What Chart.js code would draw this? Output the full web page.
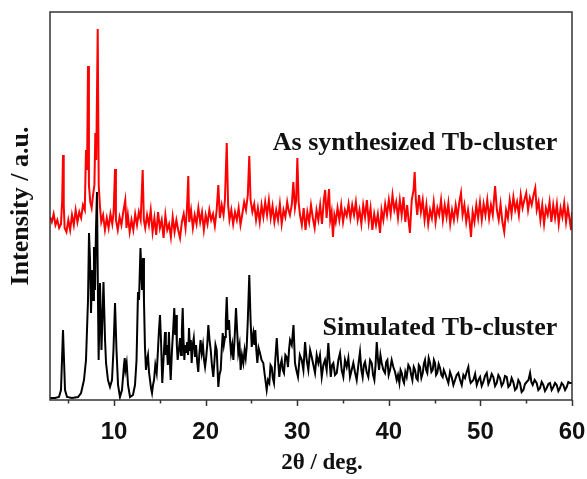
<!DOCTYPE html>
<html>
<head>
<meta charset="utf-8">
<script src="https://cdn.jsdelivr.net/npm/chart.js@4.4.0/dist/chart.umd.min.js"></script>
<style>
html,body{margin:0;padding:0;background:#fff;}
</style>
</head>
<body>
<canvas id="xrd" width="587" height="479"></canvas>
<script>
// 2theta (deg) / intensity (a.u.)
var simTheta = [3.0,3.55,3.98,4.2,4.31,4.42,4.53,4.64,4.86,5.4,6.06,6.39,6.71,6.93,7.15,7.26,7.37,7.48,7.59,7.70,7.80,7.91,8.02,8.13,8.24,8.31,8.46,8.62,8.84,9.01,9.12,9.33,9.55,9.77,9.93,10.10,10.26,10.43,10.64,10.86,11.08,11.16,11.24,11.37,11.52,11.74,12.06,12.28,12.45,12.61,12.72,12.88,13.05,13.16,13.26,
	13.37,13.48,13.59,13.70,13.81,13.92,14.03,14.14,14.25,14.36,
	14.50,14.65,14.79,14.90,15.01,15.12,15.26,15.36,15.45,15.56,
	15.65,15.74,15.87,15.99,16.08,16.18,16.32,16.45,16.57,16.67,
	16.76,16.85,16.94,17.07,17.20,17.31,17.40,17.49,17.58,17.67,
	17.76,17.85,17.98,18.08,18.18,18.30,18.38,18.47,18.58,18.70,
	18.83,18.95,19.07,19.19,19.30,19.44,19.57,19.70,19.82,19.93,
	20.05,20.17,20.29,20.42,20.55,20.68,20.83,20.95,21.07,21.20,
	21.30,21.38,21.50,21.64,21.75,21.86,21.98,22.11,22.20,22.30,
	22.42,22.55,22.66,22.77,22.90,23.02,23.15,23.31,23.43,23.56,
	23.70,23.82,23.96,24.11,24.25,24.37,24.48,24.60,24.76,24.90,
	25.03,25.11,25.20,25.31,25.42,25.53,25.64,25.78,25.93,26.10,
	26.29,26.45,26.66,26.80,26.95,27.08,27.21,27.33,27.46,27.60,
	27.76,27.90,28.04,28.17,28.30,28.42,28.55,28.70,28.85,28.99,
	29.10,29.21,29.40,29.59,29.75,29.90,30.08,30.28,30.49,30.67,
	30.85,31.03,31.21,31.40,31.58,31.76,31.94,32.12,32.30,32.48,
	32.67,32.85,33.03,33.21,33.39,33.52,33.66,33.80,33.94,34.12,
	34.31,34.49,34.67,34.85,35.03,35.21,35.40,35.58,35.76,35.94,
	36.12,36.30,36.49,36.67,36.85,37.00,37.14,37.27,37.40,37.58,
	37.76,37.95,38.13,38.28,38.42,38.55,38.68,38.80,38.93,39.08,
	39.22,39.40,39.58,39.71,39.84,39.98,40.13,40.31,40.49,40.68,
	40.86,41.00,41.15,41.28,41.41,41.54,41.66,41.80,41.95,42.13,
	42.31,42.44,42.57,42.72,42.86,43.00,43.15,43.27,43.40,43.55,
	43.70,43.82,43.95,44.07,44.20,44.35,44.50,44.65,44.79,44.92,
	45.04,45.16,45.29,45.44,45.59,45.74,45.88,46.00,46.13,46.31,
	46.50,46.68,46.86,47.05,47.23,47.41,47.59,47.78,47.96,48.14,
	48.32,48.50,48.68,48.81,48.94,
	49.23,49.42,49.60,49.78,49.96,50.14,50.32,50.50,50.69,50.87,
	51.05,51.23,51.41,51.60,51.78,51.96,52.14,52.32,52.50,52.68,
	52.87,53.05,53.23,53.41,53.59,53.78,53.96,54.14,54.32,54.50,
	54.69,54.87,55.05,55.25,55.42,55.56,55.71,55.92,56.14,56.32,
	56.51,56.69,56.87,57.05,57.24,57.42,57.60,57.78,57.96,58.15,
	58.33,58.51,58.69,58.87,59.05,59.24,59.42,59.60,59.78,60.0];
var simInt = [2,2,3,10,40,70,40,10,3,2,3,7,20,40,100,167,140,87,130,100,153,110,170,208,100,40,117,50,118,60,37,20,13,20,50,97,50,15,3,10,35,42,30,37,15,3,5,15,40,108,100,152,110,142,100,
	53,30,40,45,28,20,12,7,15,20,
	35,27,50,70,85,60,17,35,50,68,
	45,55,35,68,40,20,50,70,92,65,
	85,55,40,50,62,45,70,92,60,40,
	55,47,58,45,72,50,60,37,55,62,
	43,55,38,28,45,60,47,55,40,33,
	42,55,75,60,50,35,23,38,55,50,
	30,13,25,30,50,67,55,63,80,103,
	70,80,60,47,55,40,60,92,70,47,
	55,30,45,37,50,42,53,80,125,80,
	53,62,67,55,70,50,37,52,47,40,
	37,25,10,20,17,35,33,22,17,40,
	62,40,23,35,40,30,27,45,43,33,
	50,60,55,75,37,30,23,45,40,30,
	58,40,30,50,43,35,27,45,37,45,
	23,35,40,30,57,40,23,35,37,25,
	27,40,47,30,23,40,33,42,23,30,
	37,28,20,35,48,30,23,35,38,28,
	23,40,37,25,20,35,58,42,30,45,
	37,30,27,38,40,25,30,40,33,28,
	20,25,17,30,27,20,17,28,23,35,
	32,25,20,33,30,22,20,35,33,22,
	27,36,40,30,27,42,37,28,30,40,
	37,25,27,36,32,25,23,30,27,22,
	17,28,23,15,20,25,27,20,15,25,
	22,28,33,22,17,
	20,26,15,20,23,14,18,24,27,16,
	20,26,23,14,17,25,22,14,17,24,
	23,13,15,22,18,10,12,20,17,8,
	10,16,18,20,27,18,15,20,17,10,
	12,18,15,9,12,16,17,10,13,17,
	15,9,12,17,15,10,13,18,17,17];

var expTheta = [3.0,3.2,3.4,3.6,3.8,4.0,4.2,4.33,4.42,4.5,4.6,4.8,5.0,5.2,5.4,5.6,5.8,6.0,6.2,6.4,6.6,6.8,6.93,7.05,7.15,7.25,7.4,7.55,7.7,7.85,7.95,8.05,8.21,8.32,8.46,8.6,8.8,9.0,9.2,9.4,9.6,9.8,9.95,10.1,10.2,10.4,10.6,10.8,11.0,11.22,11.35,11.5,11.7,11.9,12.1,12.3,12.5,12.7,12.9,13.12,13.25,13.4,13.6,13.8,14.0,14.2,14.4,14.6,14.8,15.0,15.2,15.4,15.6,15.8,16.0,16.2,16.4,16.6,16.8,17.0,17.2,17.4,17.6,17.8,17.95,18.10,18.2,18.4,18.6,18.8,19.0,19.2,19.4,19.6,19.8,20.0,20.2,20.4,20.6,20.8,21.0,21.2,21.38,21.55,21.75,21.95,22.1,22.3,22.45,22.6,22.8,23.0,23.2,23.4,23.6,23.8,24.0,24.2,24.4,24.6,24.76,24.9,25.1,25.3,25.5,25.7,25.9,26.1,26.3,26.5,26.7,26.9,27.1,27.3,27.5,27.7,27.9,28.1,28.3,28.5,28.7,28.9,29.05,29.2,29.4,29.57,29.75,29.88,30.01,30.15,30.3,30.5,30.7,30.9,31.1,31.3,31.5,31.7,31.9,32.1,32.3,32.5,32.7,32.9,33.05,33.2,33.47,33.6,33.75,33.9,34.05,34.2,34.4,34.6,34.8,35.0,35.2,35.4,35.6,35.8,36.0,36.2,36.4,36.6,36.8,37.0,37.2,37.4,37.6,37.8,38.0,38.2,38.4,38.6,38.8,39.04,39.2,39.4,39.6,39.8,40.0,40.2,40.4,40.6,40.8,41.0,41.2,41.4,41.6,41.8,42.0,42.15,42.3,42.5,42.7,42.82,42.95,43.1,43.3,43.5,43.7,43.9,44.1,44.3,44.5,44.7,44.9,45.1,45.3,45.5,45.7,45.9,46.1,46.3,46.5,46.7,46.9,47.1,47.3,47.5,47.7,47.88,48.05,48.25,48.45,48.65,48.8,48.97,49.15,49.35,49.55,49.75,49.95,50.15,50.35,50.55,50.75,50.95,51.15,51.35,51.6,51.8,52.0,52.2,52.4,52.6,52.8,53.0,53.2,53.4,53.6,53.8,54.0,54.2,54.4,54.6,54.8,55.0,55.2,55.4,55.6,55.8,55.99,56.15,56.35,56.55,56.75,56.95,57.15,57.35,57.55,57.75,57.95,58.15,58.35,58.55,58.75,58.95,59.15,59.35,59.55,59.75,59.9,60.0];
var expInt = [183,178,186,175,180,172,176,200,245,195,172,168,180,170,185,175,190,178,188,182,195,190,250,230,334,215,198,192,205,215,267,240,371,215,193,178,185,170,182,172,186,176,188,231,180,170,183,175,188,200,172,185,168,180,170,186,175,188,180,230,180,172,185,175,190,168,182,165,188,172,180,162,185,170,176,163,183,168,180,170,162,178,186,172,190,224,178,190,172,185,176,192,178,188,170,185,176,190,180,186,174,190,215,182,195,185,200,257,195,180,190,176,188,180,192,175,186,198,190,205,244,200,188,196,180,192,178,195,183,198,185,200,182,194,178,190,180,196,176,190,183,198,190,185,195,218,192,200,242,198,185,175,192,170,188,178,195,182,172,190,180,195,176,200,210,182,211,180,188,163,185,178,192,180,195,178,190,184,196,182,195,185,198,180,190,176,195,183,200,178,192,170,186,175,186,167,190,180,196,185,200,186,205,190,198,182,200,185,203,178,195,180,167,200,210,228,200,185,205,188,200,180,195,176,190,182,198,178,192,185,200,180,195,183,197,176,190,180,195,183,198,207,185,195,178,190,180,163,188,178,195,182,198,180,196,185,200,182,195,185,214,190,180,196,178,168,190,182,200,186,203,190,198,185,205,192,200,207,190,202,195,205,212,190,198,180,195,176,192,185,198,178,195,182,196,176,192,183,197,178,192,180,170,188];

var majorTicks = [10,20,30,40,50,60];
var minorTicks = [5,15,25,35,45,55];
var seriesNames = ["Simulated Tb-cluster","As synthesized Tb-cluster"];
var xTitle = '2θ / deg.';

function toPoints(xs, ys){
	var pts = [];
	for (var i = 0; i < xs.length; i++) pts.push({x: xs[i], y: ys[i]});
	return pts;
}

// box, tick marks, x title and the two curve captions
var framePlugin = {
	id: 'frame',
	afterDatasetsDraw: function(chart){
		var ctx = chart.ctx, a = chart.chartArea;
		var sx = chart.scales.x, sy = chart.scales.y;
		ctx.save();
		ctx.strokeStyle = '#333';
		ctx.lineWidth = 1.5;
		ctx.strokeRect(a.left, a.top, a.right - a.left, a.bottom - a.top);
		ctx.beginPath();
		majorTicks.forEach(function(v){
			var px = Math.round(sx.getPixelForValue(v)) + 0.5;
			ctx.moveTo(px, a.bottom); ctx.lineTo(px, a.bottom + 6);
		});
		minorTicks.forEach(function(v){
			var px = Math.round(sx.getPixelForValue(v)) + 0.5;
			ctx.moveTo(px, a.bottom); ctx.lineTo(px, a.bottom + 3.5);
		});
		ctx.stroke();
		ctx.fillStyle = '#111';
		ctx.font = 'bold 26px "Liberation Serif"';
		ctx.textAlign = 'right';
		ctx.textBaseline = 'alphabetic';
		ctx.fillText(seriesNames[0], sx.getPixelForValue(58.4), sy.getPixelForValue(65));
		ctx.fillText(seriesNames[1], sx.getPixelForValue(58.4), sy.getPixelForValue(250));
		ctx.font = 'bold 23px "Liberation Serif"';
		ctx.textAlign = 'center';
		ctx.fillText(xTitle, sx.getPixelForValue(32.7), 469);
		ctx.restore();
	}
};

new Chart(document.getElementById('xrd').getContext('2d'), {
	type: 'line',
	data: {
		datasets: [{
			label: seriesNames[0],
			data: toPoints(simTheta, simInt),
			borderColor: '#000',
			borderWidth: 2,
			pointRadius: 0,
			tension: 0
		}, {
			label: seriesNames[1],
			data: toPoints(expTheta, expInt),
			borderColor: '#ff0000',
			borderWidth: 2,
			pointRadius: 0,
			tension: 0
		}]
	},
	options: {
		responsive: false,
		animation: false,
		devicePixelRatio: 1,
		layout: {padding: {top: 12, right: 0, left: 0, bottom: 0}},
		plugins: {legend: {display: false}, tooltip: {enabled: false}},
		scales: {
			x: {
				type: 'linear',
				min: 3,
				max: 60,
				afterBuildTicks: function(s){ s.ticks = majorTicks.map(function(v){ return {value: v}; }); },
				afterFit: function(s){ s.height = 79; s.paddingLeft = 0; s.paddingRight = 15; },
				grid: {display: false, drawTicks: false},
				border: {display: false},
				ticks: {
					autoSkip: false,
					maxRotation: 0,
					padding: 18,
					color: '#111',
					font: {family: '"Liberation Sans"', weight: 'bold', size: 24}
				}
			},
			y: {
				min: 0,
				max: 388,
				afterFit: function(s){ s.width = 50; },
				grid: {display: false, drawTicks: false},
				border: {display: false},
				ticks: {display: false},
				title: {
					display: true,
					text: 'Intensity / a.u.',
					color: '#111',
					padding: {top: 6, bottom: 0},
					font: {family: '"Liberation Serif"', weight: 'bold', size: 26}
				}
			}
		}
	},
	plugins: [framePlugin]
});
</script>
</body>
</html>
